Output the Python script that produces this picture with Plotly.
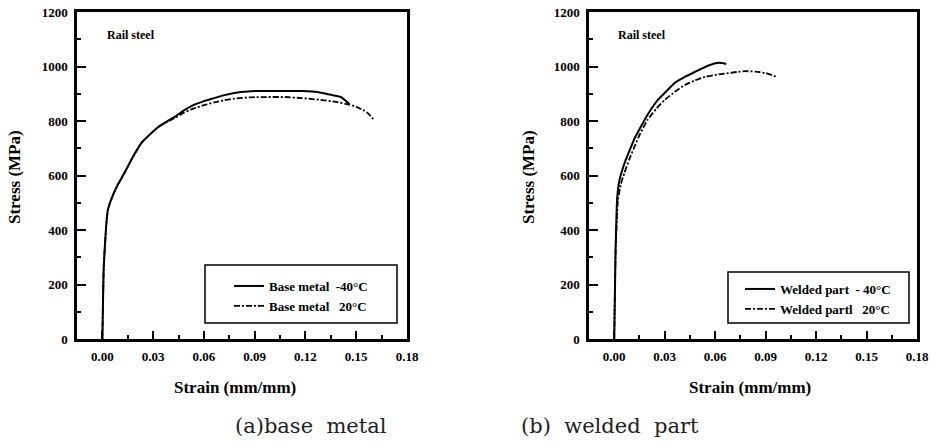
import plotly.graph_objects as go

# ---------------- data ----------------
base_m40_strain = [0.0, 0.0008, 0.0022, 0.0032, 0.0045, 0.0065, 0.009, 0.013, 0.018, 0.023,
                   0.028, 0.033, 0.038, 0.043, 0.048, 0.054, 0.060, 0.066, 0.072, 0.078,
                   0.084, 0.090, 0.100, 0.110, 0.118, 0.124, 0.130, 0.136, 0.141, 0.146]
base_m40_stress = [0, 265, 412, 473, 500, 532, 565, 609, 668, 719,
                   750, 778, 798, 816, 838, 859, 873, 884, 895, 903,
                   907, 910, 910, 910, 910, 908, 903, 895, 888, 862]

base_20_strain = [0.0, 0.0008, 0.0022, 0.0032, 0.0045, 0.0065, 0.009, 0.013, 0.018, 0.023,
                  0.028, 0.033, 0.038, 0.043, 0.048, 0.054, 0.060, 0.066, 0.072, 0.078,
                  0.088, 0.098, 0.108, 0.118, 0.128, 0.138, 0.146, 0.150, 0.154, 0.157, 0.160]
base_20_stress = [0, 265, 412, 473, 500, 532, 565, 609, 668, 719,
                  750, 778, 796, 812, 830, 846, 858, 868, 876, 882,
                  887, 888, 888, 884, 878, 870, 860, 852, 840, 828, 807]

weld_m40_strain = [0.0, 0.0008, 0.0018, 0.003, 0.0048, 0.007, 0.009, 0.012, 0.0158, 0.020,
                   0.0258, 0.030, 0.036, 0.042, 0.048, 0.054, 0.060, 0.064, 0.0666]
weld_m40_stress = [0, 327, 522, 580, 620, 660, 690, 735, 779, 825,
                   877, 903, 940, 962, 980, 998, 1012, 1013, 1009]

weld_20_strain = [0.0, 0.0008, 0.0022, 0.004, 0.006, 0.009, 0.012, 0.0155, 0.0198, 0.025,
                  0.030, 0.036, 0.042, 0.048, 0.054, 0.061, 0.068, 0.073, 0.078, 0.084,
                  0.090, 0.0966]
weld_20_stress = [0, 320, 510, 570, 609, 660, 705, 755, 804, 845,
                  877, 907, 932, 949, 962, 970, 976, 980, 983, 981,
                  976, 962]

x_tickvals = [0.0, 0.03, 0.06, 0.09, 0.12, 0.15, 0.18]
x_ticktext = ["0.00", "0.03", "0.06", "0.09", "0.12", "0.15", "0.18"]
y_tickvals = [0, 200, 400, 600, 800, 1000, 1200]
y_ticktext = ["0", "200", "400", "600", "800", "1000", "1200"]

names_left = ["Base metal\u00a0\u00a0-40°C", "Base metal\u00a0\u00a0\u00a020°C"]
names_right = ["Welded part\u00a0\u00a0-\u00a040°C", "Welded partl\u00a0\u00a0\u00a020°C"]

W, H = 933, 448
def px(x):
    return x / W
def py(y):
    return 1 - y / H

SERIF = "Times New Roman, Liberation Serif, Tinos, serif"
solid = dict(color="black", width=2, shape="spline", smoothing=0.4)
dashdot = dict(color="black", width=1.8, dash="6px,2px,2px,2px", shape="spline", smoothing=0.4)

fig = go.Figure()
fig.add_trace(go.Scatter(x=base_m40_strain, y=base_m40_stress, mode="lines", line=solid,
                         name=names_left[0], xaxis="x", yaxis="y", legend="legend"))
fig.add_trace(go.Scatter(x=base_20_strain, y=base_20_stress, mode="lines", line=dashdot,
                         name=names_left[1], xaxis="x", yaxis="y", legend="legend"))
fig.add_trace(go.Scatter(x=weld_m40_strain, y=weld_m40_stress, mode="lines", line=solid,
                         name=names_right[0], xaxis="x2", yaxis="y2", legend="legend2"))
fig.add_trace(go.Scatter(x=weld_20_strain, y=weld_20_stress, mode="lines", line=dashdot,
                         name=names_right[1], xaxis="x2", yaxis="y2", legend="legend2"))

tickfont = dict(family=SERIF, size=13, color="black", weight="bold")
def xax(domain, anchor):
    return dict(domain=domain, anchor=anchor, range=[-0.015, 0.18], tickvals=x_tickvals,
                ticktext=x_ticktext, ticks="inside", ticklen=8, tickwidth=2, tickcolor="black",
                minor=dict(dtick=0.015, tick0=0, ticks="inside", ticklen=4, tickwidth=2, tickcolor="black"),
                showline=True, linewidth=2.5, linecolor="black", mirror=True,
                showgrid=False, zeroline=False, tickfont=tickfont, automargin=False,
                ticklabelstandoff=4)
def yax(domain, anchor):
    return dict(domain=domain, anchor=anchor, range=[0, 1200], tickvals=y_tickvals,
                ticktext=y_ticktext, ticks="inside", ticklen=9, tickwidth=2, tickcolor="black",
                minor=dict(dtick=100, tick0=0, ticks="inside", ticklen=4, tickwidth=2, tickcolor="black"),
                showline=True, linewidth=2.5, linecolor="black", mirror=True,
                showgrid=False, zeroline=False, tickfont=tickfont, automargin=False,
                ticklabelstandoff=4)

ydom = [py(339), py(12)]
legfont = dict(family=SERIF, size=13, color="black", weight="bold")
fig.update_layout(
    width=W, height=H, margin=dict(l=0, r=0, t=0, b=0),
    paper_bgcolor="white", plot_bgcolor="white",
    xaxis=xax([px(77), px(407)], "y"),
    yaxis=yax(ydom, "x"),
    xaxis2=xax([px(589), px(917)], "y2"),
    yaxis2=yax(ydom, "x2"),
    legend=dict(x=px(229), y=py(271), xanchor="left", yanchor="top", bgcolor="rgba(0,0,0,0)",
                borderwidth=0, font=legfont, tracegroupgap=0),
    legend2=dict(x=px(740), y=py(274), xanchor="left", yanchor="top", bgcolor="rgba(0,0,0,0)",
                 borderwidth=0, font=legfont, tracegroupgap=0),
    showlegend=True,
)

# legend boxes
for (x0, y0, x1, y1) in [(205, 265, 397, 323), (728, 272, 909, 323)]:
    fig.add_shape(type="rect", xref="paper", yref="paper", x0=px(x0), x1=px(x1), y0=py(y1), y1=py(y0),
                  line=dict(color="black", width=1.5), fillcolor="rgba(0,0,0,0)")

labfont = dict(family=SERIF, size=17, color="black", weight="bold")
ann = []
for xc, ys in [(14, 177), (528, 177)]:
    ann.append(dict(text="Stress (MPa)", x=px(xc), y=py(ys), xref="paper", yref="paper",
                    showarrow=False, textangle=-90, font=labfont, xanchor="center", yanchor="middle"))
for xc in [235, 750]:
    ann.append(dict(text="Strain (mm/mm)", x=px(xc), y=py(387), xref="paper", yref="paper",
                    showarrow=False, font=labfont, xanchor="center", yanchor="middle"))
for xl in [105, 616]:
    ann.append(dict(text="Rail steel", x=px(xl), y=py(35), xref="paper", yref="paper",
                    showarrow=False, font=dict(family=SERIF, size=12, color="black", weight="bold"),
                    xanchor="left", yanchor="middle"))
capfont = dict(family="DejaVu Serif", size=21, color="#222222")
ann.append(dict(text="(a)base\u00a0\u00a0metal", x=px(311), y=py(426), xref="paper", yref="paper",
                showarrow=False, font=capfont, xanchor="center", yanchor="middle"))
ann.append(dict(text="(b)\u00a0\u00a0welded\u00a0\u00a0part", x=px(610), y=py(426), xref="paper", yref="paper",
                showarrow=False, font=capfont, xanchor="center", yanchor="middle"))
fig.update_layout(annotations=ann)

fig.write_html("out.html", post_script="document.body.style.margin='0';",
               config={"displayModeBar": False})
